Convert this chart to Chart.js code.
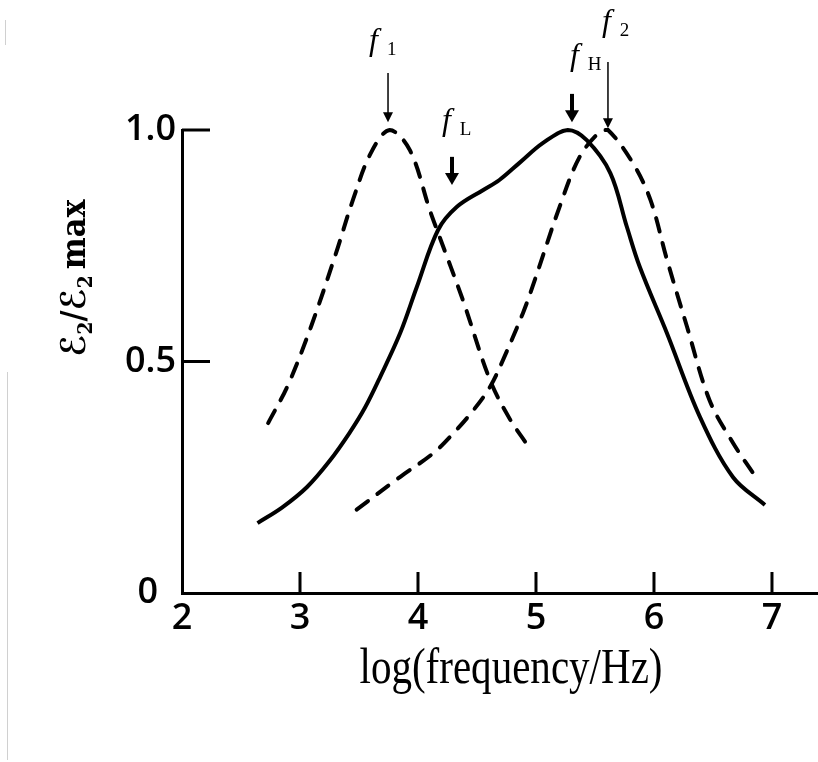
<!DOCTYPE html>
<html>
<head>
<meta charset="utf-8">
<script src="https://cdn.jsdelivr.net/npm/chart.js@4"></script>
<style>
  html, body { margin: 0; padding: 0; background: #fff; }
  #chart { display: block; }
</style>
</head>
<body>
<canvas id="chart" width="818" height="762"></canvas>
<script>
// curves: x = log(frequency/Hz), y = e2 / e2max
const f1Freq  = [2.73, 2.90, 3.10, 3.30, 3.45, 3.60, 3.76, 3.93, 4.10, 4.17, 4.38, 4.61, 4.78, 4.91];
const f1Level = [0.367, 0.45, 0.58, 0.73, 0.85, 0.95, 1.0, 0.957, 0.827, 0.778, 0.633, 0.46, 0.375, 0.326];

const mainFreq  = [2.64, 2.85, 3.06, 3.25, 3.42, 3.55, 3.68, 3.85, 3.99, 4.17, 4.33, 4.55, 4.69, 4.86, 5.06, 5.27, 5.43, 5.63, 5.77, 5.88, 6.11, 6.39, 6.67, 6.94];
const mainLevel = [0.151, 0.185, 0.229, 0.285, 0.346, 0.40, 0.467, 0.562, 0.661, 0.784, 0.834, 0.87, 0.892, 0.929, 0.972, 1.0, 0.978, 0.907, 0.791, 0.704, 0.561, 0.38, 0.25, 0.19];

const f2Freq  = [3.48, 3.85, 4.13, 4.30, 4.47, 4.61, 4.72, 4.89, 4.97, 5.20, 5.37, 5.54, 5.61, 5.82, 5.97, 6.11, 6.28, 6.47, 6.67, 6.88];
const f2Level = [0.18, 0.251, 0.302, 0.345, 0.395, 0.445, 0.503, 0.605, 0.661, 0.834, 0.942, 0.996, 1.0, 0.929, 0.849, 0.72, 0.575, 0.417, 0.324, 0.244];

const xTicks = [2, 3, 4, 5, 6, 7];
const yTicks = [0, 0.5, 1.0];
const yTickLabels = ['0\u2002', '0.5', '1.0'];

// marker arrows (data units)
const markerSubs  = ['1', 'L', 'H', '2'];
const markerFreq  = [3.746, 4.288, 5.305, 5.61];
const arrowFrom   = [1.123, 0.942, 1.078, 1.147];
const arrowTo     = [1.017, 0.881, 1.017, 1.004];
const labelFreq   = [3.585, 4.203, 5.288, 5.559];
const labelLevel  = [1.173, 1.0, 1.14, 1.214];

const toPoints = (xs, ys) => xs.map((x, i) => ({ x: x, y: ys[i] }));

const lineStyle = {
  borderColor: '#000',
  borderWidth: 4,
  pointRadius: 0,
  fill: false,
  clip: false,
  tension: 0.35,
};

// inward tick marks, titles and the peak arrows
const decorations = {
  id: 'decorations',
  beforeDraw(chart) {
    const ctx = chart.ctx;
    ctx.save();
    ctx.strokeStyle = '#d0d0d0';
    ctx.lineWidth = 1;
    ctx.beginPath();
    ctx.moveTo(5.5, 20); ctx.lineTo(5.5, 45);
    ctx.moveTo(7.5, 372); ctx.lineTo(7.5, 760);
    ctx.stroke();
    ctx.restore();
  },
  afterDraw(chart) {
    const ctx = chart.ctx;
    const xs = chart.scales.x;
    const ys = chart.scales.y;
    const area = chart.chartArea;
    ctx.save();
    ctx.strokeStyle = '#000';
    ctx.fillStyle = '#000';

    // ticks pointing into the plot
    ctx.lineWidth = 3;
    ctx.beginPath();
    yTicks.slice(1).forEach(v => {
      const py = ys.getPixelForValue(v);
      ctx.moveTo(area.left, py);
      ctx.lineTo(area.left + 28, py);
    });
    xTicks.slice(1).forEach(v => {
      const px = xs.getPixelForValue(v);
      ctx.moveTo(px, area.bottom);
      ctx.lineTo(px, area.bottom - 21);
    });
    ctx.stroke();

    // x title, slightly condensed serif
    ctx.save();
    ctx.font = '50px "Liberation Serif", "DejaVu Serif", serif';
    ctx.textAlign = 'center';
    ctx.textBaseline = 'alphabetic';
    const xt = 'log(frequency/Hz)';
    const xw = ctx.measureText(xt).width;
    ctx.translate(511, 683);
    ctx.scale(303 / xw, 1);
    ctx.fillText(xt, 0, 0);
    ctx.restore();

    // y title: E2/E2 max, rotated
    ctx.save();
    const big = 'bold 34px "DejaVu Serif", "DejaVu Sans", serif';
    const sub = 'bold 21px "DejaVu Serif", serif';
    const parts = [
      ['\u2130', big, 0], ['2', sub, 7], ['/', big, 0],
      ['\u2130', big, 0], ['2', sub, 7], ['\u2009max', big, 0]
    ];
    let total = 0;
    parts.forEach(p => { ctx.font = p[1]; total += ctx.measureText(p[0]).width; });
    ctx.translate(72, 278);
    ctx.rotate(-Math.PI / 2);
    ctx.scale(157 / total, 1);
    ctx.textBaseline = 'alphabetic';
    ctx.textAlign = 'left';
    let cx = -total / 2;
    parts.forEach(p => {
      ctx.font = p[1];
      ctx.fillText(p[0], cx, 13 + p[2]);
      cx += ctx.measureText(p[0]).width;
    });
    ctx.restore();

    // arrows and their labels
    markerFreq.forEach((f, i) => {
      const px = xs.getPixelForValue(f);
      const top = ys.getPixelForValue(arrowFrom[i]);
      const bot = ys.getPixelForValue(arrowTo[i]);
      const thick = markerSubs[i] === 'L' || markerSubs[i] === 'H';
      const hw = thick ? 7 : 5;
      const hh = thick ? 12 : 10;
      ctx.lineWidth = thick ? 4 : 1.5;
      ctx.beginPath();
      ctx.moveTo(px, top);
      ctx.lineTo(px, bot - hh + 1);
      ctx.stroke();
      ctx.beginPath();
      ctx.moveTo(px - hw, bot - hh);
      ctx.lineTo(px + hw, bot - hh);
      ctx.lineTo(px, bot);
      ctx.closePath();
      ctx.fill();

      const lx = xs.getPixelForValue(labelFreq[i]);
      const ly = ys.getPixelForValue(labelLevel[i]);
      ctx.textAlign = 'left';
      ctx.textBaseline = 'alphabetic';
      ctx.font = 'italic 32px "Liberation Serif", "DejaVu Serif", serif';
      ctx.fillText('f', lx, ly);
      const fw = ctx.measureText('f').width;
      ctx.font = '19px "Liberation Serif", "DejaVu Serif", serif';
      ctx.fillText(markerSubs[i], lx + fw + 9, ly + 5);
    });
    ctx.restore();
  }
};

const tickFont = { family: '"Open Sans", "DejaVu Sans", sans-serif', size: 36, weight: '600' };

const ctx = document.getElementById('chart').getContext('2d');
new Chart(ctx, {
  type: 'line',
  data: {
    datasets: [
      Object.assign({ label: 'f1', data: toPoints(f1Freq, f1Level), borderDash: [14, 12], borderCapStyle: 'round' }, lineStyle),
      Object.assign({ label: 'measured', data: toPoints(mainFreq, mainLevel) }, lineStyle),
      Object.assign({ label: 'f2', data: toPoints(f2Freq, f2Level), borderDash: [14, 12], borderCapStyle: 'round' }, lineStyle),
    ],
  },
  options: {
    responsive: false,
    animation: false,
    layout: { padding: { left: 0, right: 0, top: 130, bottom: 59 } },
    plugins: {
      legend: { display: false },
      tooltip: { enabled: false },
    },
    scales: {
      x: {
        type: 'linear',
        min: 2,
        max: 7.39,
        afterBuildTicks: s => { s.ticks = xTicks.map(v => ({ value: v })); },
        afterFit: s => { s.height = 110; },
        grid: { display: false, drawTicks: false },
        border: { display: true, color: '#000', width: 3 },
        ticks: {
          color: '#000',
          padding: 4,
          maxRotation: 0,
          font: tickFont,
          callback: v => String(v),
        },
      },
      y: {
        type: 'linear',
        min: 0,
        max: 1,
        afterBuildTicks: s => { s.ticks = yTicks.map(v => ({ value: v })); },
        afterFit: s => { s.width = 182; },
        grid: { display: false, drawTicks: false },
        border: { display: true, color: '#000', width: 3 },
        ticks: {
          color: '#000',
          padding: 6,
          font: tickFont,
          callback: (v, i) => yTickLabels[i],
        },
      },
    },
  },
  plugins: [decorations],
});
</script>
</body>
</html>
